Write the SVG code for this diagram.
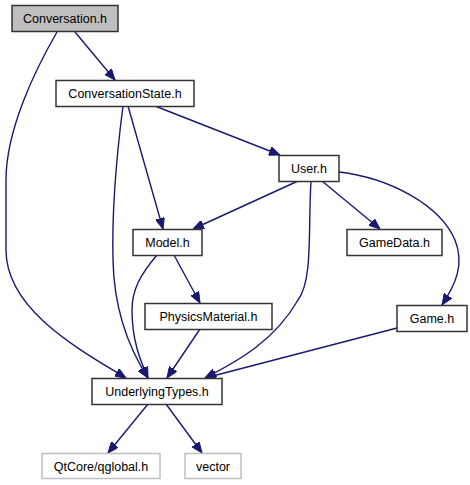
<svg xmlns="http://www.w3.org/2000/svg" width="470" height="485" viewBox="0 0 470 485">
<style>
.n rect{fill:#fff;stroke:#333;stroke-width:1.5}
.root rect{fill:#bfbfbf}
.ext rect{stroke:#bfbfbf}
text{font-family:"Liberation Sans",Arial,sans-serif;font-size:12.5px;fill:#000;text-anchor:middle}
.e path{fill:none;stroke:#191970;stroke-width:1.4;marker-end:url(#ah)}
</style>
<defs>
<marker id="ah" viewBox="0 0 11 9" refX="11" refY="4.5" markerWidth="11" markerHeight="9" markerUnits="userSpaceOnUse" orient="auto">
<path d="M0,0 L11,4.5 L0,9 z" fill="#191970" stroke="#191970"/>
</marker>
</defs>
<rect width="470" height="485" fill="#fff"/>
<g class="e" id="edges">
<path d="M75,32 L115,80"/>
<path d="M57,32 C35,70 6,130 6,180 L6,250 C6,310 80,350 126,378"/>
<path d="M155,106 L280,155"/>
<path d="M128,106 L163,229"/>
<path d="M123,106 C116,160 112,220 113,260 C114,310 130,350 148,378"/>
<path d="M157,255 C140,275 132,290 132,310 C132,340 140,360 148,378"/>
<path d="M298,181 L193,229"/>
<path d="M322,181 L380,229"/>
<path d="M339,172 C390,178 440,205 455,240 C465,265 455,285 442,305"/>
<path d="M311,181 C308,230 313,280 298,300 C275,340 240,360 205,378"/>
<path d="M174,255 L200,303"/>
<path d="M200,329 L167,378"/>
<path d="M397,328 L205,378"/>
<path d="M148,404 L108,453"/>
<path d="M166,404 L202,453"/>
</g>
<g class="n root" id="conversation"><rect x="12" y="5.5" width="106" height="26"/><text x="65" y="23">Conversation.h</text></g>
<g class="n" id="conversationstate"><rect x="56" y="80.5" width="138" height="26"/><text x="125" y="98">ConversationState.h</text></g>
<g class="n" id="user"><rect x="279" y="155.5" width="60" height="26"/><text x="309" y="173">User.h</text></g>
<g class="n" id="model"><rect x="133" y="229.5" width="69" height="26"/><text x="167.5" y="247">Model.h</text></g>
<g class="n" id="gamedata"><rect x="347" y="229.5" width="95" height="26"/><text x="394.5" y="247">GameData.h</text></g>
<g class="n" id="physicsmaterial"><rect x="145" y="303.5" width="127" height="26"/><text x="208.5" y="321">PhysicsMaterial.h</text></g>
<g class="n" id="game"><rect x="397" y="305.5" width="70" height="26"/><text x="432" y="323">Game.h</text></g>
<g class="n" id="underlyingtypes"><rect x="92" y="378.5" width="130" height="26"/><text x="157" y="396">UnderlyingTypes.h</text></g>
<g class="n ext" id="qglobal"><rect x="42" y="453.5" width="118" height="25"/><text x="101" y="471">QtCore/qglobal.h</text></g>
<g class="n ext" id="vector"><rect x="185" y="453.5" width="56" height="25"/><text x="213" y="471">vector</text></g>
</svg>
